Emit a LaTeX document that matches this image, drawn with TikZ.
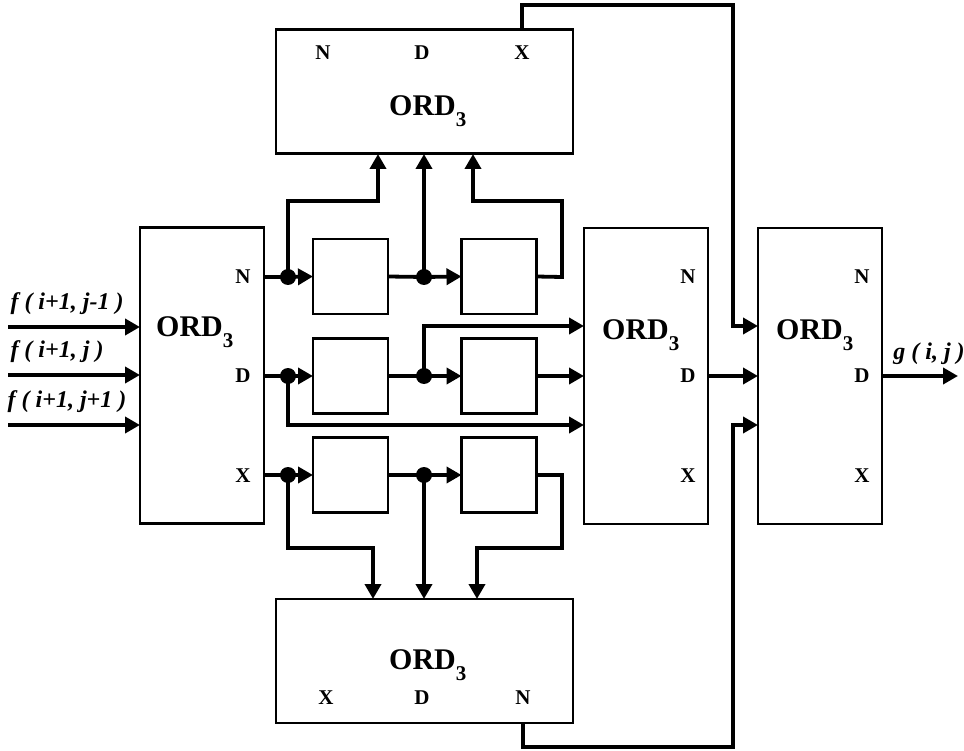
\documentclass[tikz,border=0pt]{standalone}
\usepackage{fontspec}
\setmainfont{Liberation Serif}
\usetikzlibrary{arrows.meta}
\newcommand\ordtext{ORD\raisebox{-11pt}{\fontsize{21}{21}\selectfont 3}}
\begin{document}
\begin{tikzpicture}[x=1pt,y=-1pt,
 blk/.style={draw, line width=2.4pt, inner sep=0pt, outer sep=0pt},
 tall/.style={blk, minimum width=124pt, minimum height=296pt},
 wide/.style={blk, minimum width=297pt, minimum height=124pt},
 sq/.style={blk, minimum width=75pt, minimum height=75pt},
 wire/.style={line width=3.8pt},
 arr/.style={wire, -{Triangle[length=15pt,width=16pt]}},
 dotc/.style={circle, fill, inner sep=0pt, minimum size=16pt},
 port/.style={font=\fontsize{21}{21}\selectfont\bfseries, inner sep=0pt},
 ord/.style={font=\fontsize{30}{30}\selectfont\bfseries, inner sep=0pt, anchor=base west},
 sig/.style={font=\fontsize{24}{24}\selectfont\bfseries\itshape, inner sep=0pt},
]
\useasboundingbox (0,0) rectangle (964,751);

% main blocks
\node[tall] (L) at (202,375.5) {};
\node[tall] (M) at (646,376) {};
\node[tall] (R) at (820,376) {};
\node[wide] (T) at (424.5,91.5) {};
\node[wide] (B) at (424.5,661) {};

% small boxes
\node[sq] (s11) at (350.5,276.5) {};
\node[sq] (s12) at (499,276.5) {};
\node[sq] (s21) at (350.5,376) {};
\node[sq] (s22) at (499,376) {};
\node[sq] (s31) at (350.5,475) {};
\node[sq] (s32) at (499,475) {};

% block titles
\node[ord] (Lt) at (156,337) {\ordtext};
\node[ord] (Mt) at (602,340) {\ordtext};
\node[ord] (Rt) at (776,340) {\ordtext};
\node[ord] (Tt) at (389,116) {\ordtext};
\node[ord] (Bt) at (389,669) {\ordtext};

% port labels
\node[port] (LN) at (243,277) {N};
\node[port] (LD) at (243,376) {D};
\node[port] (LX) at (243,476) {X};
\node[port] (MN) at (688,277) {N};
\node[port] (MD) at (688,376) {D};
\node[port] (MX) at (688,476) {X};
\node[port] (RN) at (862,277) {N};
\node[port] (RD) at (862,376) {D};
\node[port] (RX) at (862,476) {X};
\node[port] (TN) at (323,53) {N};
\node[port] (TD) at (422,53) {D};
\node[port] (TX) at (522,53) {X};
\node[port] (BX) at (326,698) {X};
\node[port] (BD) at (422,698) {D};
\node[port] (BN) at (523,698) {N};

% signal labels
\node[sig] (f1) at (67,304) {f ( i+1, j-1 )};
\node[sig] (f2) at (57,352) {f ( i+1, j )};
\node[sig] (f3) at (67,402) {f ( i+1, j+1 )};
\node[sig] (g) at (929,354) {g ( i, j )};

% coordinates
\coordinate (d11) at (288,277);
\coordinate (d12) at (424,277);
\coordinate (d21) at (288,376);
\coordinate (d22) at (424,376);
\coordinate (d31) at (288,475);
\coordinate (d32) at (424,475);
\coordinate (in1) at (8,327);
\coordinate (in2) at (8,375);
\coordinate (in3) at (8,425);
\coordinate (out) at (958,376);

% inputs
\draw[arr] (in1) -- (in1 -| L.west);
\draw[arr] (in2) -- (in2 -| L.west);
\draw[arr] (in3) -- (in3 -| L.west);

% row 1
\draw[wire] (d11 -| L.east) -- (d11);
\draw[arr] (d11) -- (s11.west);
\draw[wire] (s11.east) -- (d12);
\draw[arr] (d12) -- (s12.west);
\draw[arr] (d11) -- (288,201) -- (378,201) -- (378,154);
\draw[arr] (d12) -- (424,154);
\draw[arr] (s12.east) -- (562,277) -- (562,201) -- (473,201) -- (473,154);

% row 2
\draw[wire] (d21 -| L.east) -- (d21);
\draw[arr] (d21) -- (s21.west);
\draw[wire] (s21.east) -- (d22);
\draw[arr] (d22) -- (s22.west);
\draw[arr] (s22.east) -- (s22.east -| M.west);
\draw[arr] (d22) -- (424,326) -- (584,326);
\draw[arr] (d21) -- (288,425) -- (584,425);

% row 3
\draw[wire] (d31 -| L.east) -- (d31);
\draw[arr] (d31) -- (s31.west);
\draw[wire] (s31.east) -- (d32);
\draw[arr] (d32) -- (s32.west);
\draw[arr] (d31) -- (288,548) -- (373,548) -- (373,599);
\draw[arr] (d32) -- (424,599);
\draw[arr] (s32.east) -- (562,475) -- (562,548) -- (477,548) -- (477,599);

% to final block
\draw[arr] (522,29) -- (522,5) -- (733,5) -- (733,326) -- (758,326);
\draw[arr] (M.east) -- (R.west);
\draw[arr] (523,723) -- (523,747) -- (733,747) -- (733,425) -- (758,425);
\draw[arr] (R.east) -- (out);

% junction dots
\foreach \d in {d11,d12,d21,d22,d31,d32} \node[dotc] at (\d) {};
\end{tikzpicture}
\end{document}
